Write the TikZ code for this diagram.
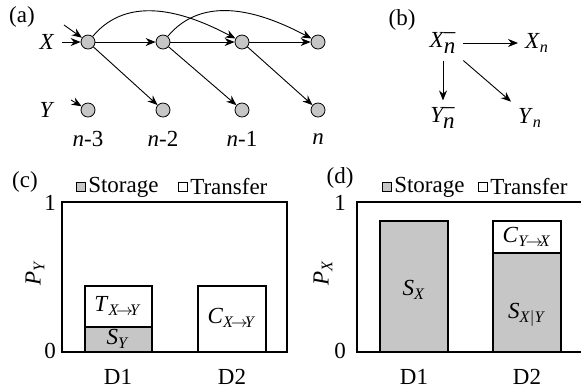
\documentclass[tikz,border=0pt]{standalone}
\usepackage{fontspec}
\setmainfont{Liberation Serif}
\usetikzlibrary{arrows.meta}

\tikzset{
  estado/.style={circle, draw, fill=gray!45, inner sep=0pt, minimum size=7pt},
  flecha/.style={-{Stealth[length=5pt,width=4pt]}, line width=0.45pt},
  marco/.style={draw, line width=0.6pt},
  caja/.style={draw, line width=0.4pt, inner sep=0pt, minimum size=4.5pt},
  texto/.style={anchor=west, inner sep=1pt},
}
% Variables con subindice (y superindice)
\newcommand{\vsub}[2]{\textit{#1}\textsubscript{#2}}
\newcommand{\vpas}[1]{$\textit{#1}_{\textit{n}}^{\textrm{--}}$}
\newcommand{\flx}[2]{\textit{#1}$\!\rightarrow\!$\textit{#2}}

\begin{document}
\begin{tikzpicture}[x=0.5pt, y=-0.5pt, font=\fontsize{11.5}{13}\selectfont]
        \useasboundingbox (0,0) rectangle (581,388);

        % (a) Cadena
        \node (la) at (22,17) {(a)};
        \node (lX) at (47,42) {\textit{X}};
        \node (lY) at (47,110) {\textit{Y}};
        \foreach \i/\x/\t in {3/88/-3, 2/163/-2, 1/242/-1, 0/318/} {
            \node[estado] (x\i) at (\x,42) {};
            \node[estado] (y\i) at (\x,110) {};
            \node (t\i) at (\x,139) {\textit{n}\t};
        }
        \foreach \a/\b in {3/2, 2/1, 1/0} {
            \draw[flecha] (x\a) -- (x\b);
            \draw[flecha] (x\a) -- (y\b);
        }
        \draw[flecha] (x3) to[out=50, in=152] (x1);
        \draw[flecha] (x2) to[out=50, in=152] (x0);

        % Entradas
        \coordinate (ex1) at (62,42);
        \coordinate (ex2) at (64,25);
        \coordinate (ey) at (71,100);
        \draw[flecha] (ex1) -- (x3);
        \draw[flecha] (ex2) -- (x3);
        \draw[flecha] (ey) -- (y3);

        % (b)
        \node (lb) at (402,20) {(b)};
        \node (xm) at (443,43) {\vpas{X}};
        \node (xn) at (537,43) {\vsub{X}{\textit{n}}};
        \node (ym) at (443,118) {\vpas{Y}};
        \node (yn) at (530,118) {\vsub{Y}{\textit{n}}};
        \draw[flecha] (xm) -- (xn);
        \draw[flecha] (xm) -- (ym);
        \draw[flecha] (xm) -- (yn);

        % (c) P_Y
        \node (lc) at (25,182) {(c)};
        \node[caja, fill=gray!45] (kc1) at (81,187) {};
        \node[texto] (sc1) at (kc1.east) {Storage};
        \node[caja, fill=white] (kc2) at (183,187) {};
        \node[texto] (sc2) at (kc2.east) {Transfer};
        \draw[marco] (62,202) rectangle (287,352);
        \draw[marco] (85,286) rectangle (152,352);
        \filldraw[marco, fill=gray!45] (85,327) rectangle (152,352);
        \draw[marco] (198,286) rectangle (266,352);
        \node (txy) at (118,306) {\vsub{T}{\flx{X}{Y}}};
        \node (sy) at (118,339) {\vsub{S}{\textit{Y}}};
        \node (cxy) at (232,318) {\vsub{C}{\flx{X}{Y}}};
        \node (c1) at (50,203) {1};
        \node (c0) at (50,351) {0};
        \node[rotate=90] (py) at (35,273) {\vsub{P}{\textit{Y}}};
        \node (cd1) at (118,377) {D1};
        \node (cd2) at (232,377) {D2};

        % (d) P_X
        \node (ld) at (340,178) {(d)};
        \node[caja, fill=gray!45] (kd1) at (387,187) {};
        \node[texto] (sd1) at (kd1.east) {Storage};
        \node[caja, fill=white] (kd2) at (483,187) {};
        \node[texto] (sd2) at (kd2.east) {Transfer};
        \draw[marco] (357,202) rectangle (582,352);
        \filldraw[marco, fill=gray!45] (380,221) rectangle (448,352);
        \draw[marco] (493,221) rectangle (561,352);
        \filldraw[marco, fill=gray!45] (493,253) rectangle (561,352);
        \node (sx) at (414,290) {\vsub{S}{\textit{X}}};
        \node (cyx) at (527,237) {\vsub{C}{\flx{Y}{X}}};
        \node (sxy) at (527,315) {\vsub{S}{\textit{X}$|$\textit{Y}}};
        \node (d1) at (340,203) {1};
        \node (d0) at (340,351) {0};
        \node[rotate=90] (px) at (323,273) {\vsub{P}{\textit{X}}};
        \node (dd1) at (414,377) {D1};
        \node (dd2) at (527,377) {D2};
\end{tikzpicture}
\end{document}
